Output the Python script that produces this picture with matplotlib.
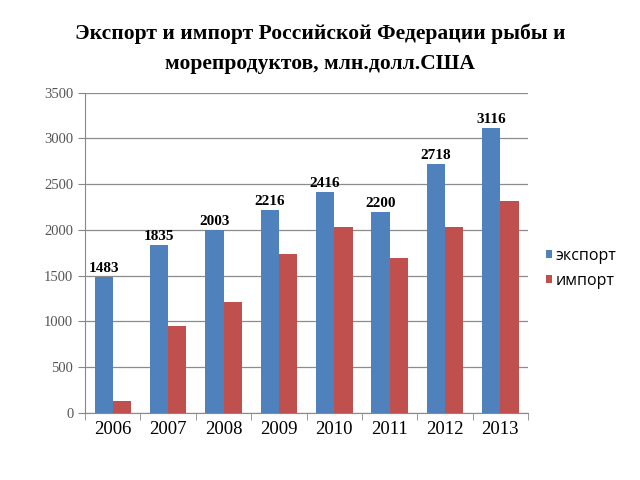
import numpy as np
import matplotlib
matplotlib.use('Agg')
import matplotlib.pyplot as plt

years = ['2006', '2007', '2008', '2009', '2010', '2011', '2012', '2013']
export_vals = [1483, 1835, 2003, 2216, 2416, 2200, 2718, 3116]
import_vals = [130, 950, 1210, 1740, 2035, 1695, 2035, 2320]

title = 'Экспорт и импорт Российской Федерации рыбы и\nморепродуктов, млн.долл.США'

fig = plt.figure(figsize=(6.4, 4.8), dpi=100)
ax = fig.add_axes([0.133, 0.140, 0.692, 0.667])

x = np.arange(len(years))
w = 0.33
b1 = ax.bar(x - w / 2, export_vals, w, color='#4F81BD', label='экспорт', zorder=3)
b2 = ax.bar(x + w / 2, import_vals, w, color='#C0504D', label='импорт', zorder=3)

# labels above the export bars
for xi, v in zip(x, export_vals):
    ax.text(xi - w / 2, v + 20, str(v), ha='center', va='bottom',
            fontsize=11, fontweight='bold', family='Liberation Serif')

ax.set_xlim(-0.5, len(years) - 0.5)
ax.set_ylim(0, 3500)
ax.set_yticks(range(0, 3501, 500))
ax.yaxis.grid(True, color='#8c8c8c', linewidth=0.9, zorder=0)
ax.set_axisbelow(True)

ax.set_xticks(x)
ax.set_xticklabels(years, fontsize=13.5, family='Liberation Serif')
ax.tick_params(axis='x', length=0, pad=6)
ax.set_xticks(np.arange(-0.5, len(years)), minor=True)
ax.tick_params(axis='x', which='minor', length=5, color='#888888')
for lbl in ax.get_yticklabels():
    lbl.set_family('Liberation Serif')
    lbl.set_fontsize(10.5)
    lbl.set_color('#555555')
ax.tick_params(axis='y', length=5, color='#888888')

for s in ['top', 'right']:
    ax.spines[s].set_visible(False)
ax.spines['left'].set_color('#888888')
ax.spines['bottom'].set_color('#888888')

fig.text(0.5, 0.95, title, ha='center', va='top', fontsize=15.5,
         fontweight='bold', family='Liberation Serif', linespacing=1.6)

leg = fig.legend(handles=[b1, b2], loc='upper left', bbox_to_anchor=(0.83, 0.513),
                 frameon=False, handlelength=0.4, handleheight=0.4,
                 handletextpad=0.2, labelspacing=0.55,
                 prop={'family': 'Open Sans', 'size': 11.5})

fig.savefig('out.png', dpi=100)
